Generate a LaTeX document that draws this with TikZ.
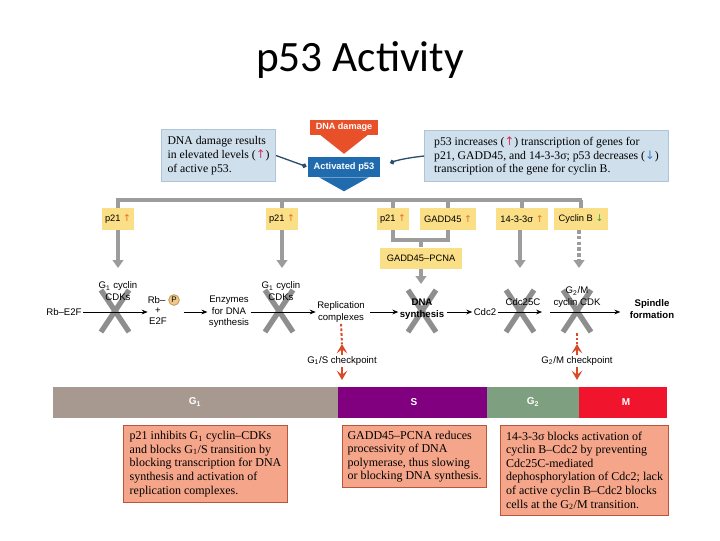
\documentclass[tikz,border=0pt]{standalone}
\usepackage{fontspec}
\setmainfont{Liberation Serif}
\setsansfont{Liberation Sans}
\newfontfamily\titlefont{Carlito}
\newfontfamily\symfont{DejaVu Sans}
\usetikzlibrary{arrows.meta,calc}
\definecolor{dmgred}{HTML}{E8502A}
\definecolor{p53blue}{HTML}{1F6BAE}
\definecolor{infofill}{HTML}{CFDFEC}
\definecolor{infodraw}{HTML}{AFC4D8}
\definecolor{connblue}{HTML}{2B4D6E}
\definecolor{yel}{HTML}{FBDF86}
\definecolor{busgray}{HTML}{9C9C9C}
\definecolor{xgray}{HTML}{8E8E8E}
\definecolor{pfill}{HTML}{F0C98C}
\definecolor{pdraw}{HTML}{C49550}
\definecolor{ckred}{HTML}{D94A2A}
\definecolor{g1col}{HTML}{A89990}
\definecolor{scol}{HTML}{800080}
\definecolor{g2col}{HTML}{7FA080}
\definecolor{mcol}{HTML}{F0142D}
\definecolor{salfill}{HTML}{F5A68A}
\definecolor{saldraw}{HTML}{B9553C}
\definecolor{arrorange}{HTML}{E2701E}
\definecolor{arrgreen}{HTML}{3DA049}
\definecolor{arrpink}{HTML}{D2335A}
\definecolor{arrblue}{HTML}{3A7FC0}
\newcommand\upO{{\symfont\textcolor{arrorange}{↑}}}
\newcommand\downG{{\symfont\textcolor{arrgreen}{↓}}}
\newcommand\upP{{\symfont\textcolor{arrpink}{↑}}}
\newcommand\downB{{\symfont\textcolor{arrblue}{↓}}}
\begin{document}
\begin{tikzpicture}[x=0.75pt,y=-0.75pt,
  yb/.style={fill=yel, font=\sffamily\fontsize{7}{8}\selectfont, minimum height=16.5pt, inner xsep=2.5pt, inner ysep=0pt},
  grayline/.style={draw=busgray, line width=3pt},
  grayarrow/.style={grayline, -{Triangle[width=8pt,length=6pt]}},
  graydash/.style={grayarrow, dash pattern=on 2.5pt off 1.8pt},
  lbl/.style={font=\sffamily\fontsize{7.2}{8.6}\selectfont, align=center, inner sep=1pt},
  blbl/.style={lbl, font=\sffamily\bfseries\fontsize{7.2}{8.6}\selectfont},
  arr/.style={-{Stealth[length=4.5pt,width=3.6pt,inset=1.6pt]}, line width=0.5pt},
  xm/.style={draw=xgray, line width=4pt},
  info/.style={fill=infofill, draw=infodraw, line width=0.8pt, font=\fontsize{8.8}{10.4}\selectfont, align=left, anchor=north west, inner sep=0pt},
  sal/.style={fill=salfill, draw=saldraw, line width=0.8pt, font=\fontsize{9}{10.2}\selectfont, align=left, anchor=north west, inner sep=0pt},
  conn/.style={draw=connblue, line width=1pt, -{Circle[length=3.5pt]}},
  redline/.style={draw=ckred, line width=1.5pt, dash pattern=on 2pt off 1.5pt},
  redtip/.style={draw=ckred, line width=1.2pt, -{Stealth[length=7pt,width=8pt,inset=3pt]}},
  phl/.style={text=white, font=\sffamily\bfseries\fontsize{7.5}{9}\selectfont}]
\path[use as bounding box, fill=white] (0,0) rectangle (720,540);

% title
\node[font=\titlefont\fontsize{32.5}{38}\selectfont] (title) at (360,60) {p53 Activity};

% top
\node[fill=dmgred, text=white, font=\sffamily\bfseries\fontsize{6.8}{8}\selectfont, minimum width=51pt, minimum height=11.25pt, inner sep=0pt] (dmg) at (344,127) {DNA damage};
\node[fill=p53blue, text=white, font=\sffamily\bfseries\fontsize{7}{8}\selectfont, minimum width=54pt, minimum height=15pt, inner sep=0pt] (act) at (344,167) {Activated p53};
\fill[dmgred] ($(dmg.south)+(-24,0)$) -- ($(dmg.south)+(24,0)$) -- ($(dmg.south)+(0,19)$) -- cycle;
\fill[p53blue] ($(act.south)+(-25,0)$) -- ($(act.south)+(25,0)$) -- ($(act.south)+(0,14)$) -- cycle;

\node[info, minimum width=85.5pt, minimum height=39pt] (lbox) at (161,129) {DNA damage results\\in elevated levels (\upP)\\of active p53.};
\node[info, minimum width=183pt, minimum height=38.25pt] (rbox) at (424,130) {p53 increases (\upP) transcription of genes for\\p21, GADD45, and 14-3-3σ; p53 decreases (\downB)\\transcription of the gene for cyclin B.};
\draw[conn, shorten >=1pt] (lbox.east) -- (act.west);
\draw[conn, shorten >=8pt] (rbox.west) to[bend right=8] (act.east);

% bus
\coordinate (busL) at (118,200);
\coordinate (busR) at (580,200);
\draw[grayline, line cap=rect] (busL) -- (busR);

\node[yb] (pa) at (118,219) {p21 \upO};
\node[yb] (pb) at (282,219) {p21 \upO};
\node[yb] (pc) at (393,219) {p21 \upO};
\node[yb, minimum width=42pt] (gadd) at (448,219) {GADD45 \upO};
\node[yb, minimum width=39pt] (sig) at (522,219) {14-3-3σ \upO};
\node[yb, minimum width=41pt] (cycb) at (581,219) {Cyclin B \downG};
\node[yb, minimum width=61.5pt, minimum height=15.75pt] (gpcna) at (421,258) {GADD45–PCNA};

\foreach \n in {pa,pb,pc,gadd,sig,cycb}{\draw[grayline] (\n.north |- busL) -- (\n.north);}
\coordinate (ta) at (118,268);
\coordinate (tb) at (282,268);
\coordinate (tc) at (421,284);
\coordinate (td) at (520,268);
\coordinate (te) at (579,268);
\coordinate (jn) at (421,240);
\draw[grayarrow] (pa.south) -- (ta);
\draw[grayarrow] (pb.south) -- (tb);
\draw[grayline] (pc.south) -- (pc.south |- jn) -- (gadd.south |- jn) -- (gadd.south);
\draw[grayline] (jn) -- (gpcna.north);
\draw[grayarrow] (gpcna.south) -- (tc);
\draw[grayarrow] (sig.south -| td) -- (td);
\draw[graydash] (cycb.south -| te) -- (te);

% X marks (behind the labels)
\foreach \c/\x in {xa/115, xb/279, xc/422, xd/520, xe/577}{
  \coordinate (\c) at (\x,311);
  \draw[xm] ($(\c)+(-14,-21)$) -- ($(\c)+(14,21)$);
  \draw[xm] ($(\c)+(14,-21)$) -- ($(\c)+(-14,21)$);
}

% main pathway
\node[lbl] (rbe2f) at (64,312) {Rb–E2F};
\node[lbl] (g1a) at (118,291) {G\textsubscript{1} cyclin\\CDKs};
\node[lbl, anchor=east] (rbtxt) at (167,300) {Rb–};
\node[circle, fill=pfill, draw=pdraw, line width=0.6pt, minimum size=8pt, inner sep=0pt, font=\sffamily\fontsize{6}{6}\selectfont] (pcirc) at (174,300) {P};
\node[lbl] (rbp) at (158,316) {+\\E2F};
\node[lbl] (enz) at (229,312) {Enzymes\\for DNA\\synthesis};
\node[lbl] (g1b) at (281,291) {G\textsubscript{1} cyclin\\CDKs};
\node[lbl] (rep) at (341,312) {Replication\\complexes};
\node[blbl] (dnas) at (422,309) {DNA\\synthesis};
\node[lbl] (cdc2) at (485,312) {Cdc2};
\node[lbl] (cdc25) at (523,302) {Cdc25C};
\coordinate (mid) at (542,312);
\node[lbl] (g2m) at (577,297) {G\textsubscript{2}/M\\cyclin CDK};
\node[blbl] (spin) at (652,309) {Spindle\\formation};

\draw[arr] (rbe2f.east) -- (rbp.west |- rbe2f.east);
\draw[arr, shorten <=3pt] (pcirc.east |- enz.west) -- (enz.west);
\draw[arr] (enz.east) -- (rep.west |- enz.east);
\draw[arr, shorten <=3pt] (rep.east) -- (dnas.west |- rep.east);
\draw[arr, shorten <=1pt] (dnas.east |- cdc2.west) -- (cdc2.west);
\draw[arr] (cdc2.east) -- (mid);
\draw[arr, shorten <=6pt, shorten >=6pt] (mid) -- (spin.west |- mid);

% checkpoints
\node[lbl] (gs) at (342,361) {G\textsubscript{1}/S checkpoint};
\coordinate (gsU) at (342,344);
\coordinate (gsD) at (342,380);
\draw[redline] (rep.south) -- (gsU);
\draw[redtip] (gs.north) -- (gsU);
\draw[redtip] (gs.south) -- (gsD);

\node[lbl] (gm) at (577,361) {G\textsubscript{2}/M checkpoint};
\coordinate (gmT) at (577,333);
\coordinate (gmU) at (577,344);
\coordinate (gmD) at (577,380);
\draw[redline] (gmT) -- (gmU);
\draw[redtip] (gm.north) -- (gmU);
\draw[redtip] (gm.south) -- (gmD);

% phase bar
\fill[g1col] (53,387) rectangle (338,418);
\fill[scol] (338,387) rectangle (487,418);
\fill[g2col] (487,387) rectangle (579,418);
\fill[mcol] (579,387) rectangle (667,418);
\node[phl] (lg1) at (195,402) {G\textsubscript{1}};
\node[phl] (ls) at (414,402) {S};
\node[phl] (lg2) at (533,402) {G\textsubscript{2}};
\node[phl] (lm) at (626,402) {M};

% bottom boxes
\node[sal, minimum width=123pt, minimum height=57.75pt] (b1) at (123,425) {p21 inhibits G\textsubscript{1} cyclin–CDKs\\and blocks G\textsubscript{1}/S transition by\\blocking transcription for DNA\\synthesis and activation of\\replication complexes.};
\node[sal, minimum width=108pt, minimum height=46.5pt] (b2) at (342,425) {GADD45–PCNA reduces\\processivity of DNA\\polymerase, thus slowing\\or blocking DNA synthesis.};
\node[sal, minimum width=126pt, minimum height=67.5pt] (b3) at (500,425) {14-3-3σ blocks activation of\\cyclin B–Cdc2 by preventing\\Cdc25C-mediated\\dephosphorylation of Cdc2; lack\\of active cyclin B–Cdc2 blocks\\cells at the G\textsubscript{2}/M transition.};
\end{tikzpicture}
\end{document}
